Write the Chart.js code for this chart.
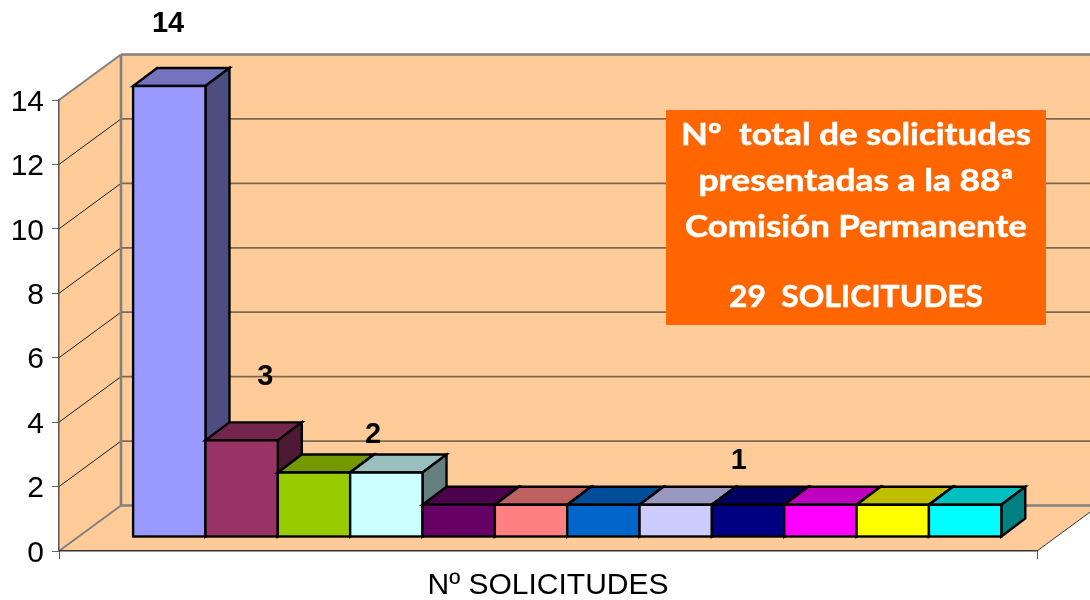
<!DOCTYPE html>
<html><head><meta charset="utf-8">
<style>html,body{margin:0;padding:0;background:#fff}canvas{display:block}</style>
<script src="https://cdn.jsdelivr.net/npm/chart.js@4"></script>
</head><body><canvas id="c" width="1090" height="600"></canvas>
<script>
const categories = ['Nº SOLICITUDES'];
const seriesNames = ['S1','S2','S3','S4','S5','S6','S7','S8','S9','S10','S11','S12'];
const seriesValues = [14,3,2,2,1,1,1,1,1,1,1,1];
const seriesColors = ['#9999FF','#993366','#99CC00','#CCFFFF','#660066','#FF8080','#0066CC','#CCCCFF','#000080','#FF00FF','#FFFF00','#00FFFF'];
const noteLines = ['Nº  total de solicitudes','presentadas a la 88ª','Comisión Permanente','29  SOLICITUDES'];

function shade(hex,f){
  const n=parseInt(hex.slice(1),16);
  return `rgb(${Math.round((n>>16&255)*f)},${Math.round((n>>8&255)*f)},${Math.round((n&255)*f)})`;
}
function poly(ctx,pts,fill,stroke,lw){
  ctx.beginPath();
  pts.forEach((p,i)=>i?ctx.lineTo(p[0],p[1]):ctx.moveTo(p[0],p[1]));
  ctx.closePath();
  if(fill){ctx.fillStyle=fill;ctx.fill();}
  if(stroke){ctx.strokeStyle=stroke;ctx.lineWidth=lw;ctx.lineJoin='miter';ctx.stroke();}
}
function line(ctx,x1,y1,x2,y2,c,w){
  ctx.beginPath();ctx.moveTo(x1,y1);ctx.lineTo(x2,y2);ctx.strokeStyle=c;ctx.lineWidth=w;ctx.stroke();
}
const WALL={dx:62,dy:-45.5,fill:'#FFCC99'};
const BAR={shiftX:19.2,shiftY:-14,dx:24,dy:-18,lw:2.4};

const walls={id:'walls',beforeDraw(chart){
  const {ctx,chartArea:a,scales:{y}}=chart;
  const {dx,dy,fill}=WALL,L=a.left,R=a.right,T=a.top,B=a.bottom;
  ctx.save();
  poly(ctx,[[L+dx,T+dy],[R+dx,T+dy],[R+dx,B+dy],[L+dx,B+dy]],fill);
  poly(ctx,[[L,B],[L+dx,B+dy],[L+dx,T+dy],[L,T]],fill);
  poly(ctx,[[L,B],[R,B],[R+dx,B+dy],[L+dx,B+dy]],fill);
  y.ticks.forEach(t=>{
    if(t.value===0||t.value===y.max)return;
    const p=y.getPixelForValue(t.value);
    line(ctx,L+dx,p+dy,R+dx,p+dy,'#7d684f',1.8);
    line(ctx,L,p,L+dx,p+dy,'#1a1a1a',1);
  });
  line(ctx,L+dx,T+dy,R+dx,T+dy,'#808080',2.4);
  line(ctx,L+dx,B+dy,R+dx,B+dy,'#808080',2.4);
  line(ctx,L+dx,T+dy,L+dx,B+dy,'#808080',2.6);
  line(ctx,L,T,L+dx,T+dy,'#808080',2);
  line(ctx,L,B,L+dx,B+dy,'#808080',2);
  line(ctx,R,B,R+dx,B+dy,'#333333',1);
  ctx.restore();
}};

const bars3d={id:'bars3d',
  beforeDatasetDraw(){return false;},
  afterDatasetsDraw(chart,args,opts){
    const ctx=chart.ctx;
    ctx.save();
    ctx.translate(BAR.shiftX,BAR.shiftY);
    chart.data.datasets.forEach((ds,i)=>{
      chart.getDatasetMeta(i).data.forEach(el=>{
        const {x,y,base,width}=el.getProps(['x','y','base','width'],true);
        const l=x-width/2,r=x+width/2,d=BAR.dx,e=BAR.dy;
        poly(ctx,[[l,y],[r,y],[r+d,y+e],[l+d,y+e]],shade(ds.backgroundColor,.75),'#000',BAR.lw);
        poly(ctx,[[r,y],[r+d,y+e],[r+d,base+e],[r,base]],shade(ds.backgroundColor,.5),'#000',BAR.lw);
        el.draw(ctx);
        ctx.strokeStyle='#000';ctx.lineWidth=BAR.lw;ctx.lineJoin='miter';
        ctx.strokeRect(l,y,width,base-y);
      });
    });
    ctx.restore();
    ctx.save();
    ctx.fillStyle='#000';ctx.font=opts.labelFont;ctx.textAlign='center';ctx.textBaseline='alphabetic';
    opts.labels.forEach(o=>{
      const el=chart.getDatasetMeta(o.series).data[0];
      ctx.fillText(String(seriesValues[o.series]),el.x+o.dx,el.y+o.dy);
    });
    const b=opts.box;
    ctx.fillStyle='#FF6600';ctx.fillRect(b.x,b.y,b.w,b.h);
    ctx.fillStyle='#fff';ctx.font=b.font;
    noteLines.forEach((t,i)=>{
      const k=b.widths[i]/ctx.measureText(t).width;
      ctx.save();
      ctx.translate(b.x+b.w/2,b.baselines[i]);
      ctx.scale(k,1);
      ctx.fillText(t,0,0);
      ctx.strokeStyle='#fff';ctx.lineWidth=.5;ctx.strokeText(t,0,0);
      ctx.restore();
    });
    ctx.restore();
  }
};

new Chart(document.getElementById('c'),{
  type:'bar',
  data:{labels:categories,datasets:seriesNames.map((n,i)=>({
    label:n,data:[seriesValues[i]],backgroundColor:seriesColors[i],borderWidth:0,clip:false
  }))},
  options:{
    responsive:false,animation:false,
    layout:{padding:{top:100,right:53,left:0,bottom:0}},
    datasets:{bar:{categoryPercentage:.8877,barPercentage:1}},
    plugins:{
      legend:{display:false},tooltip:{enabled:false},title:{display:false},
      bars3d:{
        labelFont:'bold 29px "Liberation Sans"',
        labels:[{series:0,dx:18,dy:-68},{series:1,dx:43,dy:-69},{series:3,dx:6,dy:-44},{series:8,dx:10,dy:-50}],
        box:{x:666,y:110,w:380,h:215,font:'bold 30px Lato',baselines:[145,191,237,307],widths:[350,315,342,254]}
      }
    },
    scales:{
      x:{
        afterFit(s){s.height=49;},
        grid:{display:true,drawOnChartArea:false,offset:true,tickLength:8,color:'#555',tickWidth:1},
        border:{display:true,color:'#333',width:1.5},
        ticks:{color:'#000',font:{family:'"Liberation Sans"',size:30},padding:9,maxRotation:0}
      },
      y:{
        min:0,max:14,
        afterFit(s){s.width=59;},
        grid:{display:true,drawOnChartArea:false,tickLength:7,color:'#666',tickWidth:1},
        border:{display:true,color:'#555',width:1.5},
        ticks:{stepSize:2,color:'#000',font:{family:'"Liberation Sans"',size:30},padding:8,labelOffset:2.5}
      }
    }
  },
  plugins:[walls,bars3d]
});
</script></body></html>
